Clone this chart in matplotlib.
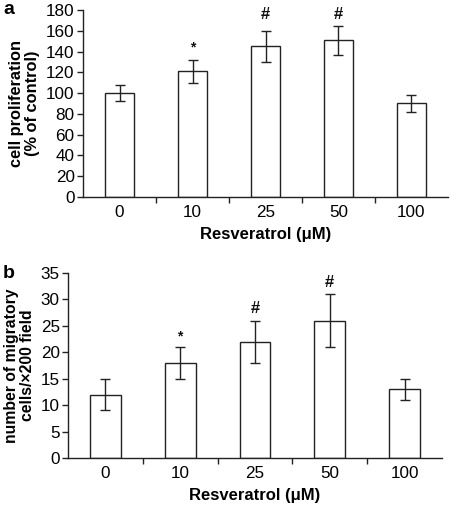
import matplotlib
matplotlib.use("Agg")
import matplotlib.pyplot as plt
import numpy as np

plt.rcParams['font.family'] = ['Liberation Sans', 'DejaVu Sans']

categories = ["0", "10", "25", "50", "100"]
prolif = [100, 121, 145, 151, 90]
prolif_err = [8, 11, 15, 14, 8]
prolif_marks = ["", "*", "#", "#", ""]
prolif_mark_y = [0, 137, 168, 168, 0]
migr = [12, 18, 22, 26, 13]
migr_err = [3, 3, 4, 5, 2]
migr_marks = ["", "*", "#", "#", ""]
migr_mark_y = [0, 21.6, 26.8, 31.8, 0]

W, H = 452, 512
fig = plt.figure(figsize=(W/100, H/100), dpi=100)

def panel(rect, vals, errs, marks, mark_y, ylim, yticks, ylabel, ylabel_fs, letter, letter_pos):
    l, b, r, t = rect
    ax = fig.add_axes([l/W, 1-b/H, (r-l)/W, (b-t)/H])
    x = np.arange(len(categories))
    ax.bar(x, vals, width=0.41, color='white', edgecolor='#222222', linewidth=1.0, zorder=2)
    ax.errorbar(x, vals, yerr=errs, fmt='none', ecolor='#222222', elinewidth=1.0,
                capsize=3.3, capthick=1.0, zorder=3)
    for xi, m, my in zip(x, marks, mark_y):
        if m:
            fs = 10 if m == "*" else 12
            ax.text(xi, my, m, ha='center', va='bottom', fontsize=fs,
                    fontweight='bold', color='#111111')
    ax.set_xlim(-0.5, 4.5)
    ax.set_ylim(*ylim)
    ax.set_yticks(yticks)
    ax.set_xticks([0.5, 1.5, 2.5, 3.5])
    ax.set_xticklabels([])
    ax.set_xticks(x, minor=True)
    ax.set_xticklabels(categories, minor=True)
    ax.tick_params(axis='x', which='minor', length=0, pad=6, labelsize=12.3)
    ax.tick_params(axis='x', which='major', length=4, direction='out', width=1, color='#222222')
    ax.tick_params(axis='y', length=4, direction='out', width=1, labelsize=12.3, pad=2, color='#222222')
    for s in ['top', 'right']:
        ax.spines[s].set_visible(False)
    for s in ['left', 'bottom']:
        ax.spines[s].set_linewidth(1.0)
        ax.spines[s].set_color('#222222')
    ax.set_ylabel(ylabel, fontsize=ylabel_fs, fontweight='bold', linespacing=1.1, labelpad=4)
    ax.set_xlabel("Resveratrol (\u03bcM)", fontsize=12, fontweight='bold', labelpad=4.5)
    fig.text(letter_pos[0]/W, 1-letter_pos[1]/H, letter, fontsize=14, fontweight='bold',
             ha='left', va='center')
    return ax

panel((83, 197, 448, 10), prolif, prolif_err, prolif_marks, prolif_mark_y, (0, 180),
      np.arange(0, 181, 20), "cell proliferation\n(% of control)", 11.8, "a", (3, 9))
panel((68, 458, 442, 273), migr, migr_err, migr_marks, migr_mark_y, (0, 35),
      np.arange(0, 36, 5), "number of migratory\ncells/\u00d7200 field", 11.3, "b", (3, 273))

fig.savefig("out.png", dpi=100)
